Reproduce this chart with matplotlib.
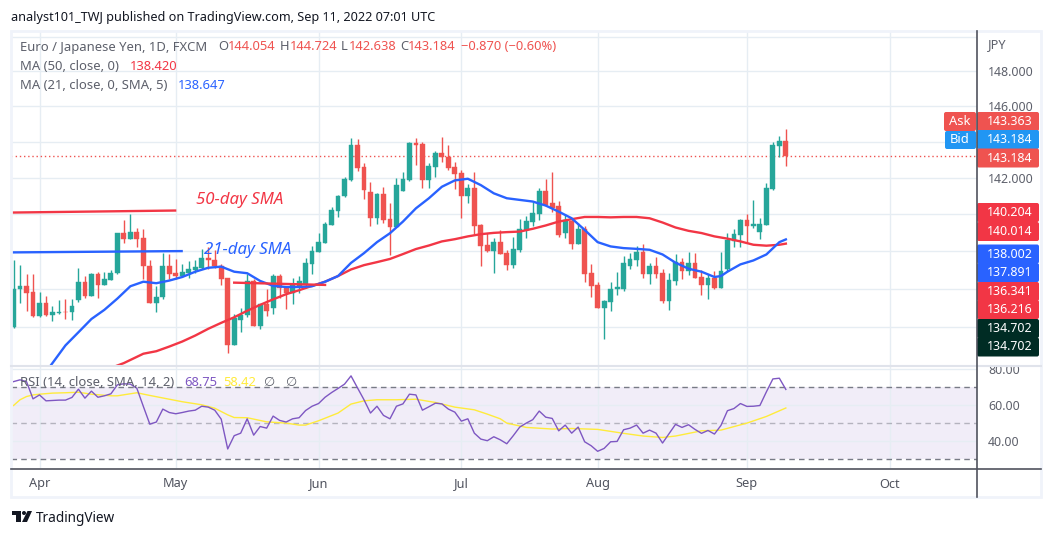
#!/usr/bin/env python3
"""EUR/JPY daily candles with moving averages and an RSI pane, TradingView look."""

import matplotlib
matplotlib.use("Agg")
matplotlib.rcParams.update({
    "font.family": "sans-serif",
    "font.sans-serif": ["Noto Sans", "DejaVu Sans"],
    "axes.unicode_minus": False,
})

import matplotlib.pyplot as plt
from matplotlib.patches import Circle, FancyBboxPatch, Polygon, Rectangle
from matplotlib.ticker import NullLocator
import numpy as np

# ── data: one row per trading day, starting four sessions before 1 Apr ─────
opens = [
    134.00, 135.99, 136.18, 135.87, 134.57, 135.29, 134.62, 134.72, 134.81, 134.78,
    135.41, 136.39, 135.66, 136.82, 136.24, 136.47, 136.84, 138.99, 138.67, 139.04,
    138.73, 137.24, 135.26, 135.57, 137.24, 136.87, 136.71, 136.87, 137.03, 137.13,
    137.66, 137.56, 137.24, 136.61, 133.09, 134.38, 134.62, 136.45, 134.05, 135.24,
    135.03, 136.71, 136.08, 135.81, 136.17, 136.25, 137.35, 137.98, 138.48, 139.42,
    140.19, 140.98, 141.86, 143.84, 142.58, 141.20, 139.79, 141.09, 139.74, 139.31,
    141.26, 141.86, 143.95, 143.90, 141.86, 142.58, 143.35, 143.18, 142.58, 142.24,
    140.98, 141.42, 139.41, 138.34, 138.02, 138.50, 137.91, 137.29, 138.07, 139.15,
    139.58, 140.01, 141.26, 140.60, 140.44, 138.98, 139.63, 138.39, 139.20, 136.87,
    136.19, 135.00, 135.30, 135.98, 136.03, 137.23, 137.55, 137.97, 136.82, 137.24,
    136.87, 135.35, 136.45, 137.45, 136.97, 137.40, 136.66, 136.24, 136.60, 136.08,
    137.08, 138.56, 138.88, 139.69, 139.36, 139.04, 139.42, 141.36, 143.78, 144.054,
]
highs = [
    137.54, 137.29, 136.78, 136.82, 135.87, 135.64, 135.12, 135.45, 135.48, 135.46,
    137.13, 136.69, 136.87, 136.92, 136.92, 136.99, 138.99, 139.71, 140.01, 139.26,
    139.21, 137.54, 136.17, 137.93, 137.84, 137.61, 137.35, 137.49, 137.52, 138.14,
    138.25, 138.07, 137.31, 136.61, 134.69, 135.03, 136.78, 136.55, 135.24, 135.99,
    136.78, 136.78, 136.17, 136.61, 136.69, 137.66, 138.28, 138.99, 139.58, 140.42,
    141.08, 142.06, 144.23, 144.17, 142.80, 141.75, 141.15, 141.47, 140.60, 141.97,
    142.35, 144.01, 144.23, 144.01, 142.80, 143.51, 144.28, 143.84, 142.85, 142.41,
    141.64, 142.35, 139.47, 138.98, 138.72, 139.15, 138.07, 138.77, 139.74, 139.90,
    140.66, 141.42, 141.91, 142.35, 140.71, 140.01, 139.79, 139.52, 139.36, 137.34,
    136.35, 135.41, 136.40, 136.92, 137.76, 137.91, 138.29, 138.39, 137.40, 137.71,
    137.08, 136.87, 137.87, 137.66, 137.98, 137.92, 137.03, 136.82, 136.97, 137.98,
    139.00, 139.20, 139.74, 140.01, 140.76, 139.79, 141.74, 144.00, 144.33, 144.724,
]
lows = [
    133.97, 135.29, 134.86, 134.52, 134.52, 134.60, 134.35, 134.69, 134.43, 134.38,
    135.31, 135.55, 135.64, 135.52, 136.24, 136.47, 136.82, 138.43, 138.67, 138.25,
    136.52, 135.26, 134.78, 135.46, 136.52, 136.52, 136.64, 136.61, 136.87, 137.08,
    137.08, 137.13, 136.20, 132.66, 133.09, 133.74, 134.52, 134.04, 133.92, 134.60,
    134.69, 135.55, 134.95, 135.24, 135.81, 136.08, 136.82, 137.98, 138.44, 139.40,
    139.85, 140.97, 141.82, 142.37, 140.82, 139.36, 139.47, 139.52, 137.83, 139.31,
    141.26, 141.80, 142.69, 141.42, 141.42, 142.02, 142.85, 142.46, 141.36, 139.79,
    140.60, 138.93, 137.23, 137.97, 136.87, 137.86, 137.03, 137.13, 137.97, 138.72,
    139.36, 139.68, 140.44, 140.12, 138.77, 138.72, 138.13, 138.39, 136.35, 135.56,
    135.00, 133.38, 134.83, 135.67, 135.88, 137.08, 137.23, 136.61, 136.29, 136.60,
    135.29, 134.92, 136.24, 136.55, 136.76, 136.60, 135.71, 135.50, 136.03, 136.08,
    136.97, 138.24, 138.24, 138.45, 139.26, 138.66, 139.42, 141.31, 143.17, 142.638,
]
closes = [
    136.03, 136.18, 135.81, 134.57, 135.29, 134.62, 134.78, 134.81, 134.78, 135.12,
    136.39, 135.66, 136.82, 136.24, 136.52, 136.87, 138.99, 138.67, 139.04, 138.67,
    137.20, 135.26, 135.60, 137.24, 136.82, 136.71, 136.92, 137.08, 137.19, 137.66,
    137.52, 137.24, 136.55, 133.09, 134.47, 134.66, 136.45, 134.05, 135.24, 134.86,
    136.71, 136.04, 135.80, 136.29, 136.43, 137.40, 138.02, 138.50, 139.47, 140.23,
    141.03, 141.91, 143.84, 142.52, 141.31, 139.79, 141.09, 139.68, 139.31, 141.58,
    141.91, 143.95, 143.84, 141.86, 142.63, 143.35, 143.13, 142.52, 142.19, 140.98,
    141.42, 139.36, 138.29, 138.02, 138.50, 137.86, 137.29, 138.13, 139.20, 139.63,
    140.06, 141.26, 140.50, 140.33, 138.88, 139.68, 138.39, 139.20, 136.82, 136.14,
    135.00, 135.36, 136.03, 136.09, 137.39, 137.60, 137.97, 136.82, 137.24, 136.82,
    135.35, 136.50, 137.45, 136.97, 137.40, 136.60, 136.24, 136.60, 136.08, 136.97,
    138.61, 138.93, 139.69, 139.36, 139.47, 139.47, 141.42, 143.83, 144.05, 143.184,
]
first_session = -4  # session number of the first row, 1 Apr 2022 is session 0

ma21_sessions = [1] + list(range(2, 105, 2)) + [105, 106, 108, 110, 112, 114, 115]
ma21_values = [
    131.70, 132.15, 133.06, 133.74, 134.43, 134.91, 135.50, 136.15, 136.39, 136.31, 136.45,
    136.64, 136.92, 137.13, 137.19, 136.92, 136.84, 136.43, 136.17, 136.11, 136.11,
    136.15, 136.39, 136.69, 137.39, 137.91, 138.50, 138.98, 139.61, 140.33, 140.88,
    141.51, 141.86, 141.95, 141.60, 141.15, 140.88, 140.79, 140.70, 140.48, 140.15,
    139.79, 139.16, 138.50, 138.27, 138.18, 138.14, 138.09, 137.84, 137.40, 137.08,
    136.92, 136.64, 136.69, 136.92, 137.31, 137.52, 137.84, 138.50, 138.647,
]
ma50_sessions = [11, 13] + list(range(16, 115, 2)) + [115]
ma50_values = [
    131.90, 132.15, 132.63, 132.76, 133.00, 133.26, 133.57, 133.92, 134.23, 134.52, 134.86,
    135.17, 135.46, 135.73, 135.94, 136.17, 136.39, 136.69, 137.04, 137.27, 137.43,
    137.60, 137.86, 138.13, 138.32, 138.54, 138.66, 138.81, 138.93, 139.00, 139.04,
    139.07, 139.22, 139.40, 139.61, 139.74, 139.86, 139.86, 139.84, 139.86, 139.86,
    139.79, 139.56, 139.29, 139.11, 138.99, 138.81, 138.69, 138.54, 138.36, 138.31,
    138.36, 138.42,
]

rsi_values = [
    73.1, 74.1, 73.1, 63.5, 65.7, 62.4, 62.6, 62.8, 62.8, 64.3,
    68.9, 63.9, 67.8, 64.4, 65.2, 66.3, 71.3, 71.9, 71.7, 69.4,
    59.3, 49.4, 50.6, 57.8, 55.9, 55.2, 55.9, 56.7, 57.2, 59.4,
    58.9, 57.2, 52.2, 35.6, 43.0, 44.4, 52.4, 43.3, 48.1, 47.2,
    53.9, 51.5, 50.6, 52.4, 53.0, 57.0, 59.4, 60.9, 64.4, 67.0,
    69.3, 71.7, 76.3, 69.6, 63.0, 55.6, 59.4, 54.3, 52.4, 59.4,
    60.7, 66.1, 65.7, 57.2, 59.1, 61.1, 60.7, 57.8, 56.1, 51.1,
    52.4, 44.4, 41.1, 40.2, 42.4, 40.7, 38.5, 43.0, 47.8, 50.0,
    51.9, 56.7, 53.3, 52.6, 45.7, 48.9, 44.4, 47.8, 39.6, 37.4,
    34.3, 35.9, 39.6, 39.8, 46.3, 47.2, 48.9, 44.4, 46.1, 44.4,
    38.9, 44.1, 49.3, 47.6, 49.1, 46.5, 44.3, 45.9, 43.9, 48.7,
    56.9, 58.1, 60.9, 59.3, 59.4, 59.8, 67.4, 74.6, 75.0, 68.75,
]
rsi_ma_sessions = [
    -4, -3, -2, -1, 0, 2, 4, 6, 8, 11, 12, 15, 17, 20, 22, 25, 27, 29, 30, 32,
    35, 38, 40, 41, 43, 46, 48, 50, 52, 55, 58, 61, 64, 67, 69, 71, 72, 75, 79, 82,
    86, 90, 93, 96, 98, 102, 105, 109, 112, 115,
]
rsi_ma_values = [
    59.8, 63.0, 64.8, 65.7, 66.1, 66.7, 66.9, 67.2, 66.1, 65.2,
    65.2, 66.9, 65.4, 63.3, 61.9, 60.2, 58.3, 54.6, 53.1, 53.0,
    50.7, 50.0, 48.9, 48.9, 51.3, 55.6, 60.6, 62.4, 63.0, 63.0,
    63.3, 61.5, 58.9, 57.4, 55.0, 52.4, 50.0, 47.6, 46.7, 47.0,
    46.5, 44.3, 42.8, 42.0, 42.8, 45.7, 46.1, 50.0, 53.7, 58.42,
]

# hand-drawn annotation lines: (sessions, prices)
drawn_50_line = ([-4.3, 20.9], [140.10, 140.21])
drawn_21_line = ([-4.3, 21.9], [137.95, 138.02])
drawn_50_short = ([30, 44], [136.34, 136.22])

month_ticks = [0, 21, 43, 65, 86, 109, 131]
month_labels = ["Apr", "May", "Jun", "Jul", "Aug", "Sep", "Oct"]
price_grid = [132, 134, 136, 138, 140, 142, 144, 146, 148, 150]
price_labels = {142: "142.000", 146: "146.000", 148: "148.000"}
rsi_grid = [40, 60, 80]
rsi_labels = ["40.00", "60.00", "80.00"]
last_close = 143.184

# (text, box colour, y centre in pixels); tags are stacked by the platform
price_tags = [
    ("143.363", "#ef5350", 121.5), ("143.184", "#2196f3", 139.5), ("143.184", "#ef5350", 158),
    ("140.204", "#f23645", 212.5), ("140.014", "#f23645", 231.5),
    ("138.002", "#2962ff", 254), ("137.891", "#2962ff", 272.5),
    ("136.341", "#f23645", 291.5), ("136.216", "#f23645", 309.5),
    ("134.702", "#002c24", 328.5), ("134.702", "#002c24", 347),
]

# ── colours ─────────────────────────────────────────────────────────────────
C_UP = "#26a69a"
C_DOWN = "#ef5350"
C_MA50 = "#f23645"
C_MA21 = "#2962ff"
C_RSI = "#7e57c2"
C_RSI_MA = "#ffeb3b"
C_GRID = "#e6edf3"
C_BORDER = "#f0f3fa"
C_AXIS = "#50535e"
C_TEXT = "#131722"
C_LABEL = "#5d606b"

FIG_W, FIG_H = 1053, 536
BAR_PX = 6.49
APR1_PX = 39.5
LEFT_PX, RIGHT_PX = 11, 977


def pane(fig, top_px, bottom_px):
    return fig.add_axes([
        LEFT_PX / FIG_W,
        1 - bottom_px / FIG_H,
        (RIGHT_PX - LEFT_PX) / FIG_W,
        (bottom_px - top_px) / FIG_H,
    ])


def style_pane(ax):
    ax.set_xlim((LEFT_PX - APR1_PX) / BAR_PX, (RIGHT_PX - APR1_PX) / BAR_PX)
    ax.set_xticks(month_ticks)
    ax.tick_params(axis="x", length=0, labelbottom=False)
    ax.xaxis.grid(True, color=C_GRID, linewidth=1.0)
    ax.yaxis.grid(True, color=C_GRID, linewidth=1.0)
    ax.set_axisbelow(True)
    ax.yaxis.tick_right()
    for sp in ax.spines.values():
        sp.set_visible(False)


def main():
    fig = plt.figure(figsize=(FIG_W / 100, FIG_H / 100), dpi=100, facecolor="white")

    # ── price pane ──────────────────────────────────────────────────────────
    ax = pane(fig, 32, 366)
    style_pane(ax)
    ax.set_yscale("log")
    ax.set_ylim(132.15, 150.27)
    ax.yaxis.set_minor_locator(NullLocator())
    ax.set_yticks(price_grid)
    ax.set_yticklabels([price_labels.get(p, "") for p in price_grid], fontsize=8.9, color=C_LABEL)
    ax.tick_params(axis="y", length=0, pad=8)

    o = np.array(opens)
    h = np.array(highs)
    l = np.array(lows)
    c = np.array(closes)
    sessions = np.arange(first_session, first_session + len(o))
    colors = [C_UP if cl >= op else C_DOWN for op, cl in zip(o, c)]

    ax.vlines(sessions, l, h, colors=colors, linewidth=1.0, zorder=2)
    ax.bar(sessions, np.abs(c - o), bottom=np.minimum(o, c), width=0.74, color=colors,
           edgecolor=colors, linewidth=0.3, zorder=3)

    ax.plot(ma50_sessions, ma50_values, color=C_MA50, linewidth=1.7, zorder=4)
    ax.plot(ma21_sessions, ma21_values, color=C_MA21, linewidth=1.7, zorder=5)
    ax.axhline(last_close, color=C_DOWN, linewidth=1.0, linestyle=(0, (1, 2)), zorder=1)

    # hand-drawn trend marks and their captions
    ax.plot(*drawn_50_line, color=C_MA50, linewidth=1.7, zorder=5)
    ax.plot(*drawn_21_line, color=C_MA21, linewidth=1.7, zorder=5)
    ax.plot(*drawn_50_short, color=C_MA50, linewidth=1.7, zorder=5)

    # ── RSI pane ────────────────────────────────────────────────────────────
    rsi = pane(fig, 366, 468)
    style_pane(rsi)
    rsi.set_facecolor("none")
    rsi.set_ylim(25, 81.8)
    rsi.set_yticks(rsi_grid)
    rsi.set_yticklabels(rsi_labels, fontsize=8.9, color=C_LABEL)
    rsi.tick_params(axis="y", length=0, pad=8)
    rsi.axhspan(30, 70, color=C_RSI, alpha=0.1, linewidth=0, zorder=0)
    rsi.axhline(70, color="#787b86", linewidth=1.0, linestyle=(0, (4, 3)), zorder=1)
    rsi.axhline(50, color="#787b86", linewidth=1.0, linestyle=(0, (4, 3)), alpha=0.5, zorder=1)
    rsi.axhline(30, color="#787b86", linewidth=1.0, linestyle=(0, (4, 3)), zorder=1)
    rsi.plot(rsi_ma_sessions, rsi_ma_values, color=C_RSI_MA, linewidth=1.0, zorder=2)
    rsi.plot(sessions, rsi_values, color=C_RSI, linewidth=1.0, zorder=3)

    # ── page furniture, drawn in pixel coordinates ──────────────────────────
    top = fig.add_axes([0, 0, 1, 1], facecolor="none", zorder=10)
    top.set_xlim(0, FIG_W)
    top.set_ylim(FIG_H, 0)
    top.axis("off")

    top.add_patch(Rectangle((11, 31), 1030, 466, fill=False, edgecolor=C_BORDER, linewidth=2))
    top.plot([11, 1041], [366, 366], color="#e0e3eb", linewidth=1.5)
    top.plot([11, 1041], [468.5, 468.5], color=C_AXIS, linewidth=1.2)
    top.plot([977, 977], [31, 497], color=C_AXIS, linewidth=1.2)

    def txt(x, y, s, color=C_LABEL, size=9.3, **kw):
        top.text(x, y, s, color=color, fontsize=size, va="center", ha=kw.pop("ha", "left"), **kw)

    def round_box(x0, x1, y0, y1, color):
        top.add_patch(FancyBboxPatch((x0 + 2, y0 + 2), x1 - x0 - 4, y1 - y0 - 4,
                                     boxstyle="round,pad=2", facecolor=color, edgecolor="none"))

    txt(11, 17, "analyst101_TWJ published on TradingView.com, Sep 11, 2022 07:01 UTC",
        color=C_TEXT, size=9.1)

    # OHLC legend line
    txt(20, 47, "Euro / Japanese Yen, 1D, FXCM", size=9.4)
    for x_key, key, x_val, val in [
        (218, "O", 228, "144.054"), (280, "H", 290, "144.724"),
        (341, "L", 349, "142.638"), (400, "C", 408, "143.184"),
    ]:
        txt(x_key, 47, key)
        txt(x_val, 47, val, color=C_DOWN)
    txt(461, 47, "\u22120.870 (\u22120.60%)", color=C_DOWN)

    txt(20, 67, "MA (50, close, 0)", size=9.4)
    txt(130, 67, "138.420", color=C_MA50)
    txt(20, 85.5, "MA (21, close, 0, SMA, 5)", size=9.4)
    txt(178, 85.5, "138.647", color=C_MA21)

    txt(196, 200.5, "50-day SMA", color=C_MA50, size=12.1, style="italic")
    txt(204, 250.5, "21-day SMA", color=C_MA21, size=12.1, style="italic")

    txt(20, 383, "RSI (14, close, SMA, 14, 2)", size=9.4)
    txt(184, 383, "68.75", color=C_RSI)
    txt(223, 383, "58.42", color=C_RSI_MA)
    txt(263, 383, "\u2205", family=["DejaVu Sans"])
    txt(285, 383, "\u2205", family=["DejaVu Sans"])

    txt(988, 45, "JPY", color=C_LABEL, size=9.2)

    # axis tags
    for label, color, y in price_tags:
        round_box(977, 1039, y - 9.5, y + 9.5, color)
        txt(1010, y, label, color="white", size=8.9, ha="center")
    round_box(944, 976, 112, 131, "#ef5350")
    txt(960, 121.5, "Ask", color="white", ha="center")
    round_box(945, 976, 131, 149, "#2196f3")
    txt(960, 139.5, "Bid", color="white", ha="center")

    # month labels under the panes
    for tick, label in zip(month_ticks, month_labels):
        px = APR1_PX + tick * BAR_PX
        txt(px, 484, label, color=C_AXIS, size=9.2, ha="center")

    # logo and wordmark
    top.add_patch(Polygon([(12, 511), (21, 511), (21, 522), (16, 522), (16, 515), (12, 515)],
                          facecolor=C_TEXT, edgecolor="none"))
    top.add_patch(Circle((24, 513), 2, facecolor=C_TEXT, edgecolor="none"))
    top.add_patch(Polygon([(27.5, 511), (32, 511), (27, 522), (22, 522)],
                          facecolor=C_TEXT, edgecolor="none"))
    txt(36, 518, "TradingView", color=C_TEXT, size=9.8)

    fig.savefig("out.png", dpi=100, facecolor="white")
    plt.close(fig)


if __name__ == "__main__":
    main()
